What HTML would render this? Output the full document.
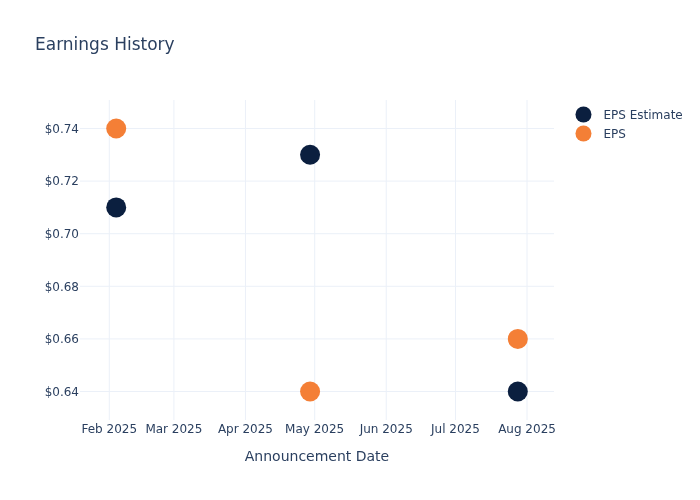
<!DOCTYPE html>
<html lang="en">
<head>
<meta charset="utf-8">
<title>Earnings History</title>
<style>
html,body{margin:0;padding:0;background:#fff;}
body{width:700px;height:500px;overflow:hidden;}
svg{display:block;}
text{font-family:"DejaVu Sans", "Liberation Sans", Verdana, Arial, sans-serif;fill:#2a3f5f;white-space:pre;}
.grid path{stroke:#ebf0f8;stroke-width:1px;fill:none;}
</style>
</head>
<body>
<svg width="700" height="500" viewBox="0 0 700 500">
<rect x="0" y="0" width="700" height="500" fill="#ffffff"/>
<g class="grid">
<path d="M109.28,100V420"/>
<path d="M173.90,100V420"/>
<path d="M245.45,100V420"/>
<path d="M314.69,100V420"/>
<path d="M386.24,100V420"/>
<path d="M455.48,100V420"/>
<path d="M527.03,100V420"/>
<path d="M80,391.50H554"/>
<path d="M80,338.90H554"/>
<path d="M80,286.30H554"/>
<path d="M80,233.70H554"/>
<path d="M80,181.10H554"/>
<path d="M80,128.50H554"/>
</g>
<g class="points">
<circle cx="116.20" cy="207.40" r="10" fill="#0b1f3f"/>
<circle cx="310.08" cy="154.80" r="10" fill="#0b1f3f"/>
<circle cx="517.80" cy="391.50" r="10" fill="#0b1f3f"/>
<circle cx="116.20" cy="128.50" r="10" fill="#f47f36"/>
<circle cx="310.08" cy="391.50" r="10" fill="#f47f36"/>
<circle cx="517.80" cy="338.90" r="10" fill="#f47f36"/>
</g>
<g class="xticks" font-size="12" text-anchor="middle">
<text x="109.28" y="433">Feb 2025</text>
<text x="173.90" y="433">Mar 2025</text>
<text x="245.45" y="433">Apr 2025</text>
<text x="314.69" y="433">May 2025</text>
<text x="386.24" y="433">Jun 2025</text>
<text x="455.48" y="433">Jul 2025</text>
<text x="527.03" y="433">Aug 2025</text>
</g>
<g class="yticks" font-size="12" text-anchor="end">
<text x="79" y="395.70">$0.64</text>
<text x="79" y="343.10">$0.66</text>
<text x="79" y="290.50">$0.68</text>
<text x="79" y="237.90">$0.70</text>
<text x="79" y="185.30">$0.72</text>
<text x="79" y="132.70">$0.74</text>
</g>
<text x="35" y="50" font-size="17">Earnings History</text>
<text x="317" y="461.3" font-size="14" text-anchor="middle">Announcement Date</text>
<g class="legend" font-size="12">
<circle cx="583.48" cy="114.5" r="8" fill="#0b1f3f"/><text x="603.48" y="119.18">EPS Estimate</text>
<circle cx="583.48" cy="133.5" r="8" fill="#f47f36"/><text x="603.48" y="138.18">EPS</text>
</g>
</svg>
</body>
</html>
